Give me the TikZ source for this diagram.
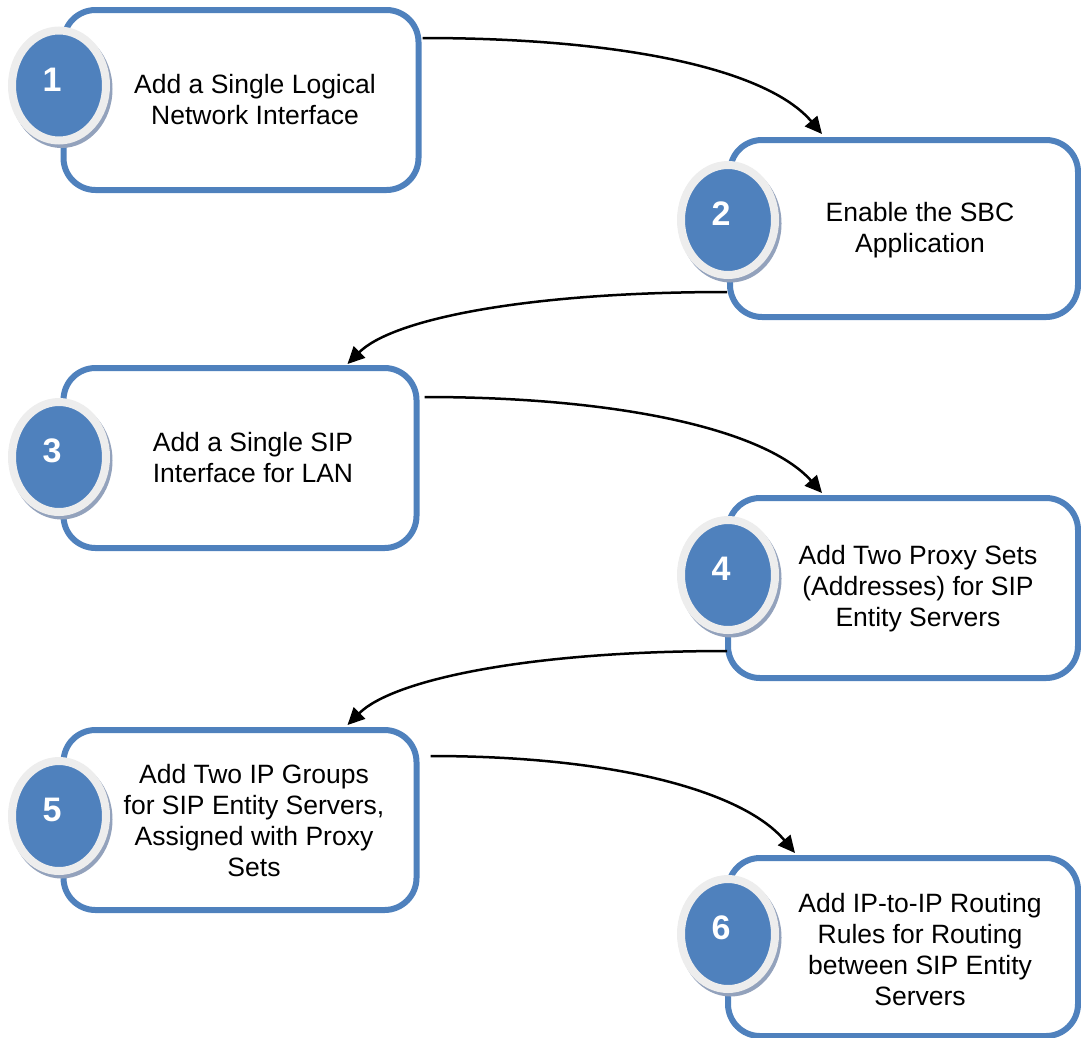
\documentclass[tikz,border=0pt]{standalone}
\usepackage{fontspec}
\setmainfont{Liberation Sans}
\usetikzlibrary{arrows.meta,calc,shapes.geometric}
\definecolor{obl}{HTML}{4F81BD}
\definecolor{halo}{HTML}{EDEDED}
\definecolor{shad}{HTML}{93A2BC}
\tikzset{
  stepbox/.style={draw=obl, line width=6pt, rounded corners=32pt, outer sep=0pt, inner sep=0pt, fill=white},
  numcirc/.style={ellipse, fill=obl, draw=halo, line width=8pt, minimum width=94pt, minimum height=110pt, inner sep=0pt, outer sep=0pt},
  numtxt/.style={text=white, font=\fontsize{34}{34}\selectfont\bfseries, inner sep=0pt},
  boxtxt/.style={align=center, font=\fontsize{26.5}{31}\selectfont, inner sep=0pt},
  flow/.style={line width=2.5pt, -{Triangle[length=17pt,width=16pt]}}
}
\newcommand\stepnum[3]{%
  \fill[shad] ($#2+(2.5,3.5)$) ellipse [x radius=51pt, y radius=59pt];
  \node[numcirc] (#1) at #2 {};
  \node[numtxt] (n#1) at ($(#1)+(-7,-6)$) {#3};}
\begin{document}
\begin{tikzpicture}[x=1pt,y=-1pt]
\useasboundingbox (0,0) rectangle (1081,1037);
% boxes
\node[stepbox, minimum width=355pt, minimum height=180pt] (b1) at (241,100) {};
\node[stepbox, minimum width=348pt, minimum height=177pt] (b2) at (904,228.5) {};
\node[stepbox, minimum width=353pt, minimum height=180pt] (b3) at (240,458) {};
\node[stepbox, minimum width=350pt, minimum height=180pt] (b4) at (903,588) {};
\node[stepbox, minimum width=353pt, minimum height=180pt] (b5) at (240,820) {};
\node[stepbox, minimum width=350pt, minimum height=178pt] (b6) at (903,947) {};
% texts
\node[boxtxt] (t1) at (255,100) {Add a Single Logical\\Network Interface};
\node[boxtxt] (t2) at (920,230) {Enable the SBC\\Application};
\node[boxtxt] (t3) at (253,458) {Add a Single SIP\\Interface for LAN};
\node[boxtxt] (t4) at (918,589) {Add Two Proxy Sets\\(Addresses) for SIP\\Entity Servers};
\node[boxtxt] (t5) at (254,821) {Add Two IP Groups\\for SIP Entity Servers,\\Assigned with Proxy\\Sets};
\node[boxtxt] (t6) at (920,950) {Add IP-to-IP Routing\\Rules for Routing\\between SIP Entity\\Servers};
% number circles
\stepnum{c1}{(59,85.5)}{1}
\stepnum{c2}{(728,220)}{2}
\stepnum{c3}{(59,457)}{3}
\stepnum{c4}{(728,575)}{4}
\stepnum{c5}{(59,816)}{5}
\stepnum{c6}{(728,934)}{6}
% connectors
\draw[flow] ($(b1.east)+(4,-62)$) .. controls +(200,0) and +(-55,-65) .. ($(b2.north west)+(92,-6)$);
\draw[flow] ($(b2.west)+(-3,63.5)$) .. controls +(-200,0) and +(45,-45) .. ($(b3.north west)+(284,-4)$);
\draw[flow] ($(b3.east)+(8,-61)$) .. controls +(200,0) and +(-55,-62) .. ($(b4.north west)+(94,-5)$);
\draw[flow] ($(b4.west)+(-1,63)$) .. controls +(-200,0) and +(45,-45) .. ($(b5.north west)+(284,-5)$);
\draw[flow] ($(b5.east)+(14,-64)$) .. controls +(190,0) and +(-50,-60) .. ($(b6.north west)+(67,-5)$);
\end{tikzpicture}
\end{document}
